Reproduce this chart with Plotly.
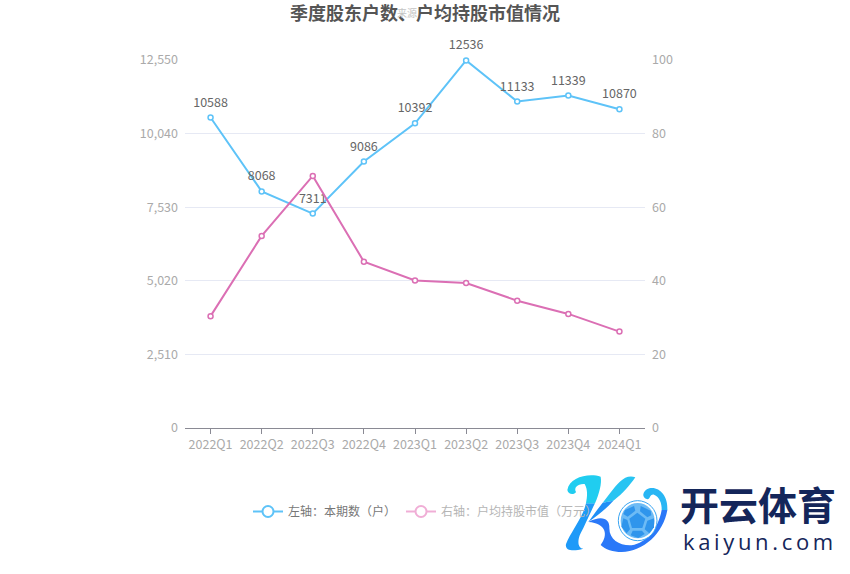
import plotly.graph_objects as go

categories = ["2022Q1", "2022Q2", "2022Q3", "2022Q4", "2023Q1", "2023Q2", "2023Q3", "2023Q4", "2024Q1"]
holders = [10588, 8068, 7311, 9086, 10392, 12536, 11133, 11339, 10870]
value_per_holder = [30.4, 52.2, 68.5, 45.2, 40.1, 39.4, 34.6, 31.0, 26.2]
left_ticks = [0, 2510, 5020, 7530, 10040, 12550]
right_ticks = [0, 20, 40, 60, 80, 100]

W, H = 850, 574
L, R, T, B = 185, 645, 60, 428
FONT = "Noto Sans CJK SC"
BLUE = "#5EC3F8"
PINK = "#DB6FB4"
TICK = "#AAAAAA"

fig = go.Figure()
fig.add_trace(go.Scatter(
    x=categories, y=holders, name="左轴：本期数（户）", mode="lines+markers", cliponaxis=False,
    line=dict(color=BLUE, width=2), showlegend=False,
    marker=dict(symbol="circle", size=5, color="white", line=dict(color=BLUE, width=1.5))))
fig.add_trace(go.Scatter(
    x=categories, y=value_per_holder, name="右轴：户均持股市值（万元）", mode="lines+markers",
    yaxis="y2", cliponaxis=False, line=dict(color=PINK, width=2), showlegend=False,
    marker=dict(symbol="circle", size=5, color="white", line=dict(color=PINK, width=1.5))))
# data labels sit a little higher than plotly's default offset for a small marker
fig.add_trace(go.Scatter(
    x=categories, y=holders, mode="markers+text", cliponaxis=False, showlegend=False, hoverinfo="skip",
    text=[str(v) for v in holders], textposition="top center",
    textfont=dict(size=12.5, color="#666666", family=FONT),
    marker=dict(size=11, opacity=0)))

# legend keys (the second entry is drawn pale, as in the reference)
fig.add_trace(go.Scatter(
    x=[None], y=[None], name="左轴：本期数（户）", mode="lines+markers",
    line=dict(color=BLUE, width=2),
    marker=dict(size=11, color="white", line=dict(color=BLUE, width=2))))
fig.add_trace(go.Scatter(
    x=[None], y=[None], name="<span style='color:#b5b5b5'>右轴：户均持股市值（万元）</span>", mode="lines+markers",
    line=dict(color="#F0AED6", width=2),
    marker=dict(size=11, color="white", line=dict(color="#F0AED6", width=2))))

# decorative logo overlay; outline points are in a 3x crop anchored at page pixel (560, 470)
def zpath(spec):
    out = []
    for tok in spec:
        if isinstance(tok, str):
            out.append(tok)
        else:
            px = 560 + tok[0] / 3
            py = 470 + tok[1] / 3
            out.append(f"{(px - L) / (R - L):.4f},{(B - py) / (B - T):.4f}")
    return " ".join(out)

logo = [
    # stem, lower part
    ("#1E9AF8", ["M", (78, 100), "C", (70, 140), (30, 190), (18, 222), "C", (14, 240), (35, 246), (70, 236),
                 "C", (55, 235), (50, 215), (62, 190), "C", (75, 165), (90, 130), (105, 100), "Z"]),
    # stem, upper part with the curl
    ("#20CDF0", ["M", (122, 20), "C", (85, 8), (28, 22), (22, 60), "C", (24, 74), (42, 76), (48, 66),
                 "C", (40, 52), (55, 40), (74, 42), "C", (84, 60), (82, 80), (78, 100), "L", (105, 100),
                 "C", (118, 70), (126, 40), (122, 20), "Z"]),
    # arm
    ("#28C4F2", ["M", (226, 22), "C", (195, 12), (175, 38), (150, 70), "L", (128, 98), "L", (160, 92),
                 "C", (190, 70), (210, 45), (226, 22), "Z"]),
    ("#1F8FF6", ["M", (128, 98), "C", (112, 118), (98, 138), (85, 156), "C", (115, 135), (140, 115), (160, 92), "Z"]),
    # lower sweep
    ("#2A78F8", ["M", (85, 156), "C", (125, 135), (150, 145), (148, 175), "C", (148, 210), (180, 228), (215, 226),
                 "C", (260, 218), (295, 175), (305, 120), "L", (322, 120),
                 "C", (310, 190), (250, 245), (185, 246), "C", (160, 246), (135, 238), (122, 225),
                 "C", (145, 195), (140, 160), (85, 156), "Z"]),
    # right swirl
    ("#28B6F4", ["M", (322, 120), "C", (325, 75), (295, 48), (268, 55), "C", (246, 62), (244, 84), (262, 88),
                 "C", (272, 88), (268, 72), (282, 74), "C", (298, 80), (306, 100), (305, 120), "Z"]),
]
shapes = [dict(type="path", xref="paper", yref="paper", layer="above",
               path=zpath(spec), fillcolor=c, line=dict(width=0)) for c, spec in logo]

def ellipse(cx, cy, rx, ry, fill, lc=None, lw=0):
    return dict(type="circle", xref="paper", yref="paper", layer="above",
                x0=(560 + (cx - rx) / 3 - L) / (R - L), x1=(560 + (cx + rx) / 3 - L) / (R - L),
                y0=(B - 470 - (cy + ry) / 3) / (B - T), y1=(B - 470 - (cy - ry) / 3) / (B - T),
                fillcolor=fill, line=dict(color=lc or fill, width=lw))

shapes.append(ellipse(233, 152, 58, 60, "white", "#3AA5F2", 1))
shapes.append(ellipse(233, 152, 51, 53, "#6DBBF5"))
panels = [
    [(232, 128), (256, 146), (247, 174), (216, 174), (208, 146)],
    [(195, 120), (222, 108), (226, 122), (203, 140), (190, 132)],
    [(242, 108), (272, 122), (274, 136), (262, 142), (240, 124)],
    [(190, 145), (202, 150), (210, 178), (200, 190), (184, 170)],
    [(262, 152), (282, 145), (282, 172), (268, 190), (254, 178)],
    [(218, 182), (246, 182), (254, 192), (235, 204), (212, 196)],
]
for poly in panels:
    spec = ["M", poly[0]] + [x for p in poly[1:] for x in ("L", p)] + ["Z"]
    shapes.append(dict(type="path", xref="paper", yref="paper", layer="above",
                       path=zpath(spec), fillcolor="#2F95EC", line=dict(width=0)))

annotations = [
    dict(text="<b>季度股东户数、户均持股市值情况</b>", x=425, y=12, font=dict(size=18, color="#555555", family=FONT)),
    dict(text="来源", x=407, y=12.5, font=dict(size=10, color="#C4C4C4", family=FONT)),
    dict(text="<b>开云体育</b>", x=758, y=503, font=dict(size=39, color="#14265A", family=FONT)),
    dict(text="k\u2009a\u2009i\u2009y\u2009u\u2009n\u2009.\u2009c\u2009o\u2009m", x=758, y=541,
         font=dict(size=22, color="#14265A", family="Open Sans")),
]
for a in annotations:
    a.update(xref="paper", yref="paper", showarrow=False, xanchor="center", yanchor="middle",
             x=(a["x"] - L) / (R - L), y=(B - a["y"]) / (B - T))

fig.update_layout(
    width=W, height=H, paper_bgcolor="white", plot_bgcolor="white",
    margin=dict(l=L, r=W - R, t=T, b=H - B, autoexpand=False),
    font=dict(family=FONT, size=12, color=TICK),
    shapes=shapes, annotations=annotations,
    xaxis=dict(type="category", categoryorder="array", categoryarray=categories,
               range=[-0.5, 8.5], showgrid=False, showline=True, linecolor="#8A8A94", linewidth=1,
               ticks="outside", ticklen=5, tickcolor="#8A8A94", tickfont=dict(size=12.5, color=TICK)),
    yaxis=dict(range=[0, 12550], tickvals=left_ticks, ticktext=[f"{v:,}" for v in left_ticks],
               showline=False, gridcolor="#E6E9F4", gridwidth=1, zeroline=False, ticks="",
               ticklabelstandoff=6, tickfont=dict(size=12.5, color=TICK)),
    yaxis2=dict(range=[0, 100], tickvals=right_ticks, overlaying="y", side="right", showgrid=False,
                showline=False, zeroline=False, ticks="", ticklabelstandoff=6,
                tickfont=dict(size=12.5, color=TICK)),
    legend=dict(orientation="h", x=(248 - L) / (R - L), y=(B - 497) / (B - T), xanchor="left", yanchor="top",
                font=dict(size=12, color="#777777", family=FONT), bgcolor="rgba(0,0,0,0)", itemclick=False),
)
fig.write_html("out.html", config={"displayModeBar": False},
               post_script="""document.body.style.margin='0';
var s=document.querySelectorAll('.shapelayer'); var t=s[s.length-1]; t.parentNode.appendChild(t);""")
